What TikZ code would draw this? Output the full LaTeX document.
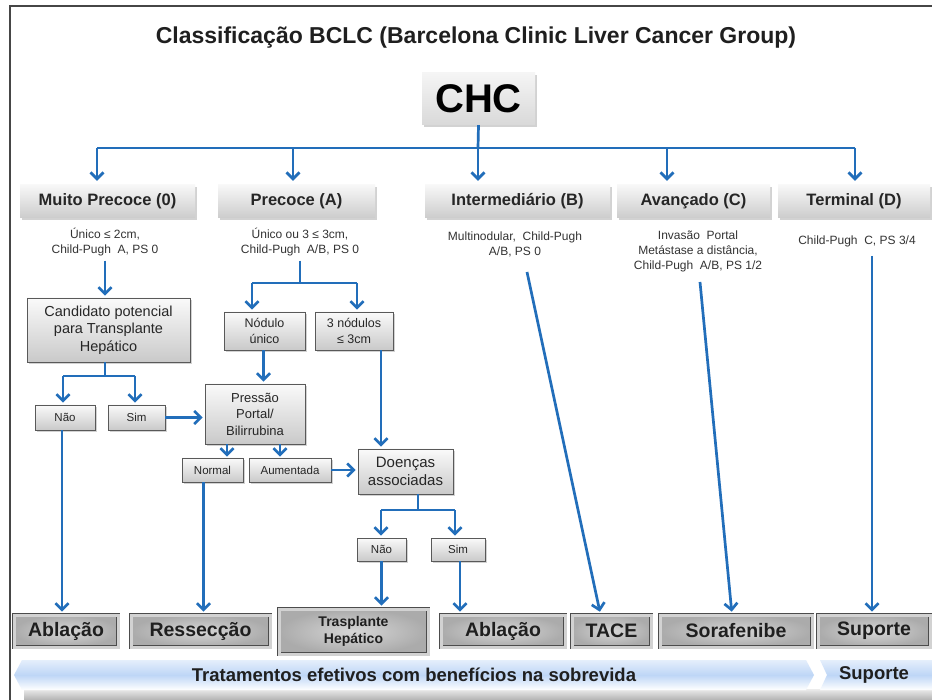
\documentclass[tikz,border=0pt]{standalone}
\usepackage{fontspec}
\setmainfont{Liberation Sans}
\usetikzlibrary{arrows.meta,shadows,calc}
\definecolor{arrblue}{RGB}{34,110,186}
\definecolor{bannerblue}{RGB}{190,214,246}
\tikzset{
  blueline/.style={draw=arrblue, line width=2.7pt},
  arr/.style={blueline, -{Straight Barb[length=6.5pt,width=13pt]}},
  shad/.style={drop shadow={shadow xshift=2pt,shadow yshift=-2pt,opacity=0.35}},
  gbox/.style={draw=black!65, line width=0.7pt, top color=gray!4, bottom color=gray!42,
    shad, align=center, inner sep=0pt, text=black!85},
  stagebox/.style={top color=gray!6, bottom color=gray!40, shad, inner sep=0pt,
    text=black!85, font=\bfseries\fontsize{16.5}{19}\selectfont},
  treat/.style={draw=gray!60!black, line width=0.7pt, double=gray!35, double distance=3pt,
    inner color=gray!32, outer color=gray!66, inner sep=0pt, align=center,
    text=black!88, font=\bfseries\fontsize{19.5}{21}\selectfont},
  desc/.style={align=center, font=\fontsize{12}{15}\selectfont, text=black!80, inner sep=0pt},
}
\begin{document}
\begin{tikzpicture}[x=1pt,y=-1pt]
\useasboundingbox (0,0) rectangle (932,700);
\fill[white] (0,0) rectangle (932,700);
% frame
\draw[gray!55!black, line width=1.5pt] (932,6) -- (10,6) -- (10,700);

% title
\node[font=\bfseries\fontsize{23}{27}\selectfont, text=black!88] (title) at (476,38)
  {Classificação BCLC (Barcelona Clinic Liver Cancer Group)};

% CHC
\node[top color=gray!8, bottom color=gray!30, shad, inner sep=0pt,
  minimum width=113, minimum height=52, font=\bfseries\fontsize{40}{44}\selectfont]
  (chc) at (478.5,99) {CHC};

% stage boxes
\node[stagebox, minimum width=175, minimum height=33] (s0) at (107.5,201.5) {Muito Precoce (0)};
\node[stagebox, minimum width=157, minimum height=33] (s1) at (296.5,201.5) {Precoce (A)};
\node[stagebox, minimum width=185, minimum height=33] (s2) at (517.5,201.5) {Intermediário (B)};
\node[stagebox, minimum width=153, minimum height=33] (s3) at (693.5,201.5) {Avançado (C)};
\node[stagebox, minimum width=152, minimum height=33] (s4) at (854,201.5) {Terminal (D)};

% connectors from CHC
\coordinate (hub) at (478,148);
\coordinate (hl) at (97,148);
\coordinate (h1) at (293,148);
\coordinate (h3) at (667,148);
\coordinate (hr) at (855,148);
\draw[blueline] (chc.south) -- (hub);
\draw[blueline] (hl) -- (hr);
\draw[arr, shorten >=4pt] (hl) -- (hl |- s0.north);
\draw[arr, shorten >=4pt] (h1) -- (h1 |- s1.north);
\draw[arr, shorten >=4pt] (hub) -- (hub |- s2.north);
\draw[arr, shorten >=4pt] (h3) -- (h3 |- s3.north);
\draw[arr, shorten >=4pt] (hr) -- (hr |- s4.north);

% descriptions
\node[desc] (d0) at (105,242.5) {Único ≤ 2cm,\\Child-Pugh\ \ A, PS 0};
\node[desc] (d1) at (300,242.5) {Único ou 3 ≤ 3cm,\\Child-Pugh\ \ A/B, PS 0};
\node[desc] (d2) at (515,244) {Multinodular,\ \ Child-Pugh\\A/B, PS 0};
\node[desc] (d3) at (698,251) {Invasão\ \ Portal\\Metástase a distância,\\Child-Pugh\ \ A/B, PS 1/2};
\node[desc] (d4) at (857,241) {Child-Pugh\ \ C, PS 3/4};

% Muito precoce branch
\node[gbox, minimum width=163, minimum height=64, font=\fontsize{14.5}{17.5}\selectfont]
  (cand) at (108.5,330) {Candidato potencial\\para Transplante\\Hepático};
\draw[arr, shorten <=4pt, shorten >=2pt] (d0.south) -- (d0.south |- cand.north);

\node[gbox, minimum width=60, minimum height=25, font=\fontsize{11.5}{14}\selectfont] (n0) at (65,417.5) {Não};
\node[gbox, minimum width=57, minimum height=25, font=\fontsize{11.5}{14}\selectfont] (y0) at (136.5,417.5) {Sim};
\coordinate (j0) at (105,376);
\coordinate (j0l) at (63,376);
\coordinate (j0r) at (135,376);
\draw[blueline] (cand.south -| j0) -- (j0);
\draw[blueline] (j0l) -- (j0r);
\draw[arr, shorten >=2pt] (j0l) -- (j0l |- n0.north);
\draw[arr, shorten >=2pt] (j0r) -- (j0r |- y0.north);

% Precoce branch
\node[gbox, minimum width=81, minimum height=38, font=\fontsize{12.5}{15.5}\selectfont] (nod) at (264.5,331) {Nódulo\\único};
\node[gbox, minimum width=78, minimum height=38, font=\fontsize{12.5}{15.5}\selectfont] (tn) at (354,331) {3 nódulos\\≤ 3cm};
\coordinate (j1) at (300,283);
\coordinate (j1l) at (252,283);
\coordinate (j1r) at (357,283);
\draw[blueline, shorten <=4pt] (d1.south) -- (j1);
\draw[blueline] (j1l) -- (j1r);
\draw[arr, shorten >=2pt] (j1l) -- (j1l |- nod.north);
\draw[arr, shorten >=2pt] (j1r) -- (j1r |- tn.north);

\node[gbox, minimum width=100, minimum height=60, font=\fontsize{13}{16.5}\selectfont] (pp) at (255,414) {Pressão\\Portal/\\Bilirrubina};
\draw[arr, shorten >=2pt] ([xshift=-1pt]nod.south) -- ([xshift=-1pt]nod.south |- pp.north);
\draw[arr, shorten >=2pt] (y0.east) -- (y0.east -| pp.west);

\node[gbox, minimum width=61, minimum height=24, font=\fontsize{11.5}{14}\selectfont] (nm) at (212.5,470) {Normal};
\node[gbox, minimum width=82, minimum height=24, font=\fontsize{11.5}{14}\selectfont] (au) at (290,470) {Aumentada};
\draw[arr, shorten >=1pt] ([xshift=-28pt]pp.south) -- ([xshift=-28pt]pp.south |- nm.north);
\draw[arr, shorten >=1pt] ([xshift=25pt]pp.south) -- ([xshift=25pt]pp.south |- au.north);

\node[gbox, minimum width=95, minimum height=45, font=\fontsize{15}{18}\selectfont] (da) at (405.5,471.5) {Doenças\\associadas};
\draw[arr, shorten >=2pt] (au.east) -- (au.east -| da.west);
\draw[arr, shorten >=2pt] ([xshift=27pt]tn.south) -- ([xshift=27pt]tn.south |- da.north);

\node[gbox, minimum width=49, minimum height=23, font=\fontsize{11.5}{14}\selectfont] (n2) at (381.5,549.5) {Não};
\node[gbox, minimum width=54, minimum height=23, font=\fontsize{11.5}{14}\selectfont] (y2) at (458,549.5) {Sim};
\coordinate (j2) at (418,510);
\coordinate (j2l) at (381,510);
\coordinate (j2r) at (455,510);
\draw[blueline] (da.south -| j2) -- (j2);
\draw[blueline] (j2l) -- (j2r);
\draw[arr, shorten >=2pt] (j2l) -- (j2l |- n2.north);
\draw[arr, shorten >=2pt] (j2r) -- (j2r |- y2.north);

% treatments
\node[treat, minimum width=104, minimum height=32] (ab1) at (66,631) {Ablação};
\node[treat, minimum width=139, minimum height=32] (res) at (200.5,631) {Ressecção};
\node[treat, minimum width=149, minimum height=45, font=\bfseries\fontsize{14}{16.5}\selectfont] (tr) at (353.5,631.5) {Trasplante\\Hepático};
\node[treat, minimum width=124, minimum height=32] (ab2) at (503,631) {Ablação};
\node[treat, minimum width=79, minimum height=32] (tace) at (611.5,631) {TACE};
\node[treat, minimum width=152, minimum height=32] (sor) at (736,631) {Sorafenibe};
\node[treat, minimum width=112, minimum height=32] (sup) at (874,631) {Suporte};

\draw[arr, shorten >=3pt] ([xshift=-3pt]n0.south) -- ([xshift=-3pt]n0.south |- ab1.north);
\draw[arr, shorten >=3pt] ([xshift=-9pt]nm.south) -- ([xshift=-9pt]nm.south |- res.north);
\draw[arr, shorten >=3pt] (n2.south) -- (n2.south |- tr.north);
\draw[arr, shorten >=3pt] ([xshift=2pt]y2.south) -- ([xshift=2pt]y2.south |- ab2.north);
\coordinate (c2) at (527,272);
\coordinate (c3) at (700,282);
\coordinate (c4) at (872,256);
\draw[arr, shorten >=3pt] (c2) -- ([xshift=-11pt]tace.north);
\draw[arr, shorten >=3pt] (c3) -- ([xshift=-4pt]sor.north);
\draw[arr, shorten >=3pt] (c4) -- (c4 |- sup.north);

% bottom banners
\shade[top color=gray!15, bottom color=gray!60] (24,689) rectangle (932,700);
\shade[top color=bannerblue!40!white, bottom color=white, middle color=bannerblue]
  (22,660) -- (806,660) -- (814,675) -- (806,690) -- (22,690) -- (14,675) -- cycle;
\shade[top color=bannerblue!40!white, bottom color=white, middle color=bannerblue]
  (820,660) -- (932,660) -- (932,690) -- (820,690) -- (827,675) -- cycle;
\node[font=\bfseries\fontsize{18.5}{21}\selectfont, text=black!88] (bt) at (414,675)
  {Tratamentos efetivos com benefícios na sobrevida};
\node[font=\bfseries\fontsize{18.5}{21}\selectfont, text=black!88] (bs) at (874,675) {Suporte};
\end{tikzpicture}
\end{document}
